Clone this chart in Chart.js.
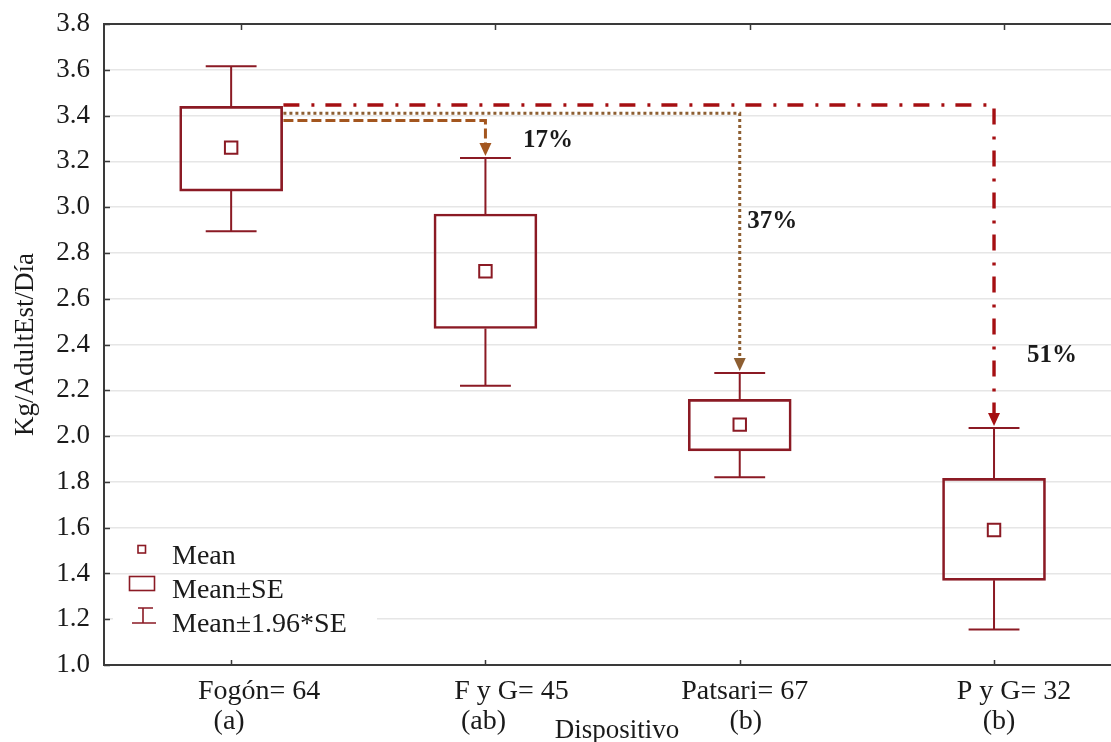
<!DOCTYPE html>
<html>
<head>
<meta charset="utf-8">
<script src="https://cdn.jsdelivr.net/npm/chart.js@4.4.1/dist/chart.umd.min.js"></script>
<style>
  html, body { margin: 0; padding: 0; background: #fff; overflow: hidden; }
  canvas { display: block; }
</style>
</head>
<body>
<canvas id="chart" width="1111" height="742"></canvas>
<script>
// Devices and sample sizes
const categories = ['Fogón= 64', 'F y G= 45', 'Patsari= 67', 'P y G= 32'];
const groups = ['(a)', '(ab)', '(b)', '(b)'];
// Daily consumption, kg per adult equivalent
const means = [3.26, 2.72, 2.05, 1.59];
const seLow = [3.07, 2.47, 1.935, 1.37];
const seHigh = [3.44, 2.97, 2.16, 1.815];
const ciLow = [2.895, 2.22, 1.82, 1.155];
const ciHigh = [3.615, 3.215, 2.275, 2.035];
const yTicks = [1.0, 1.2, 1.4, 1.6, 1.8, 2.0, 2.2, 2.4, 2.6, 2.8, 3.0, 3.2, 3.4, 3.6, 3.8];
const legendLabels = ['Mean', 'Mean±SE', 'Mean±1.96*SE'];

const SERIF = "'Liberation Serif', 'Times New Roman', serif";
const BOX = '#8b1a24';
const BOX_HALF = 0.2025;   // half box width, in category units
const CAP_HALF = 0.1;      // half whisker-cap width
const ARROW_H = 0.055;     // arrow head height, in value units

// Horizontal nudges (px) for the two lines of each category label
const labelNudge = [[28, -2], [26, -2], [5, 6], [20, 5]];

// Reduction arrows from the Fogón mean down to each improved device
const reductions = [
  { from: 0, to: 1, level: 3.378, color: '#a3561f', dash: [10, 4], width: 3, label: { x: 2.148, y: 3.289 } },
  { from: 0, to: 2, level: 3.41, color: '#8d5e31', dash: [3, 3], width: 3, label: { x: 3.03, y: 2.935 } },
  { from: 0, to: 3, level: 3.446, color: '#a50f12', dash: [16, 12, 3, 11], width: 3.4, label: { x: 4.13, y: 2.35 } }
];

const xPos = categories.map((_, i) => i + 1);

// Whiskers: one broken polyline (stems + caps), gaps between pieces
const whiskerPts = [];
xPos.forEach((x, i) => {
  whiskerPts.push({ x, y: ciHigh[i] }, { x, y: seHigh[i] }, { x, y: null });
  whiskerPts.push({ x, y: seLow[i] }, { x, y: ciLow[i] }, { x, y: null });
  whiskerPts.push({ x: x - CAP_HALF, y: ciHigh[i] }, { x: x + CAP_HALF, y: ciHigh[i] }, { x, y: null });
  whiskerPts.push({ x: x - CAP_HALF, y: ciLow[i] }, { x: x + CAP_HALF, y: ciLow[i] }, { x, y: null });
});

const reductionSets = reductions.map(r => ({
  type: 'line',
  data: [
    { x: xPos[r.from] + BOX_HALF + 0.003, y: r.level },
    { x: xPos[r.to], y: r.level },
    { x: xPos[r.to], y: ciHigh[r.to] + ARROW_H }
  ],
  borderColor: r.color,
  borderWidth: r.width,
  borderDash: r.dash,
  borderCapStyle: 'butt',
  pointRadius: 0,
  fill: false,
  tension: 0,
  order: 0
}));

const decorPlugin = {
  id: 'decor',
  beforeDatasetsDraw(chart) {
    const { ctx } = chart;
    // legend panel
    ctx.save();
    ctx.fillStyle = '#ffffff';
    ctx.fillRect(113, 600, 264, 55);
    ctx.strokeStyle = BOX;
    ctx.lineWidth = 1.6;
    // mean marker
    ctx.strokeRect(138, 545.5, 7.5, 7.5);
    // SE box
    ctx.strokeRect(129.5, 576.5, 25, 14);
    // whisker glyph
    ctx.beginPath();
    ctx.moveTo(138, 608); ctx.lineTo(153, 608);
    ctx.moveTo(143, 608); ctx.lineTo(143, 623);
    ctx.moveTo(132, 623); ctx.lineTo(156, 623);
    ctx.stroke();
    ctx.fillStyle = '#1a1a1a';
    ctx.font = '28px ' + SERIF;
    ctx.textAlign = 'left';
    ctx.textBaseline = 'alphabetic';
    ctx.fillText(legendLabels[0], 172, 564);
    ctx.fillText(legendLabels[1], 172, 598);
    ctx.fillText(legendLabels[2], 172, 632);
    ctx.restore();
  },
  afterDraw(chart) {
    const { ctx, chartArea, scales } = chart;
    const xs = scales.x, ys = scales.y;
    ctx.save();
    // top frame line
    ctx.strokeStyle = '#3a3a3a';
    ctx.lineWidth = 2;
    ctx.beginPath();
    ctx.moveTo(chartArea.left - 1, chartArea.top);
    ctx.lineTo(chartArea.right, chartArea.top);
    ctx.stroke();
    // inward tick marks
    ctx.lineWidth = 1.5;
    ctx.beginPath();
    yTicks.forEach(v => {
      const y = Math.round(ys.getPixelForValue(v)) + 0.5;
      ctx.moveTo(chartArea.left, y); ctx.lineTo(chartArea.left + 6, y);
    });
    xPos.forEach(x => {
      const px = Math.round(xs.getPixelForValue(x)) + 0.5;
      ctx.moveTo(px, chartArea.bottom); ctx.lineTo(px, chartArea.bottom - 5);
      ctx.moveTo(px + 10, chartArea.top); ctx.lineTo(px + 10, chartArea.top + 6);
    });
    ctx.stroke();

    // arrow heads and percentage labels
    reductions.forEach(r => {
      const px = xs.getPixelForValue(xPos[r.to]);
      const tip = ys.getPixelForValue(ciHigh[r.to]) - 2;
      ctx.fillStyle = r.color;
      ctx.beginPath();
      ctx.moveTo(px, tip);
      ctx.lineTo(px - 6, tip - 13);
      ctx.lineTo(px + 6, tip - 13);
      ctx.closePath();
      ctx.fill();
      const pct = Math.round((means[r.from] - means[r.to]) / means[r.from] * 100) + '%';
      ctx.fillStyle = '#1a1a1a';
      ctx.font = 'bold 25px ' + SERIF;
      ctx.textAlign = 'left';
      ctx.textBaseline = 'middle';
      ctx.fillText(pct, xs.getPixelForValue(r.label.x), ys.getPixelForValue(r.label.y));
    });

    // category labels
    ctx.fillStyle = '#1a1a1a';
    ctx.font = '28px ' + SERIF;
    ctx.textAlign = 'center';
    ctx.textBaseline = 'middle';
    xPos.forEach((x, i) => {
      const px = xs.getPixelForValue(x);
      ctx.fillText(categories[i], px + labelNudge[i][0], 692);
      ctx.fillText(groups[i], px + labelNudge[i][1], 722);
    });
    // x axis title
    ctx.font = '27px ' + SERIF;
    ctx.fillText('Dispositivo', 617, 731);
    ctx.restore();
  }
};

new Chart(document.getElementById('chart'), {
  data: {
    datasets: [
      {
        type: 'bar',
        data: xPos.map((x, i) => ({ x, y: [seLow[i], seHigh[i]] })),
        backgroundColor: 'rgba(0,0,0,0)',
        borderColor: BOX,
        borderWidth: 2,
        borderSkipped: false,
        barThickness: 103,
        grouped: false,
        order: 2
      },
      {
        type: 'line',
        data: whiskerPts,
        borderColor: BOX,
        borderWidth: 2,
        pointRadius: 0,
        spanGaps: false,
        fill: false,
        tension: 0,
        order: 2
      },
      {
        type: 'scatter',
        data: xPos.map((x, i) => ({ x, y: means[i] })),
        pointStyle: 'rect',
        pointRadius: 8.8,
        borderWidth: 2,
        borderColor: BOX,
        backgroundColor: '#ffffff',
        order: 1
      },
      ...reductionSets
    ]
  },
  options: {
    responsive: false,
    animation: false,
    devicePixelRatio: 1,
    layout: { autoPadding: false, padding: { top: 24, right: 0, bottom: 0, left: 0 } },
    plugins: { legend: { display: false }, tooltip: { enabled: false } },
    scales: {
      x: {
        type: 'linear',
        offset: false,
        min: 0.5,
        max: 4.46,
        ticks: { display: false },
        grid: { display: false, drawTicks: false, offset: false },
        border: { display: true, color: '#3a3a3a', width: 2 },
        afterFit(scale) { scale.height = 77; scale.paddingLeft = 0; scale.paddingRight = 0; }
      },
      y: {
        type: 'linear',
        min: 1.0,
        max: 3.8,
        afterBuildTicks(scale) { scale.ticks = yTicks.map(v => ({ value: v })); },
        ticks: {
          color: '#1a1a1a',
          padding: 14,
          font: { family: SERIF, size: 27 },
          callback: v => Number(v).toFixed(1)
        },
        grid: { color: '#e6e6e6', lineWidth: 1.5, drawTicks: false },
        border: { display: true, color: '#3a3a3a', width: 2 },
        title: {
          display: true,
          text: 'Kg/AdultEst/Día',
          color: '#1a1a1a',
          font: { family: SERIF, size: 27 },
          padding: { top: 10, bottom: 0 }
        },
        afterFit(scale) { scale.width = 104; scale.paddingTop = 0; scale.paddingBottom = 0; }
      }
    }
  },
  plugins: [decorPlugin]
});
</script>
</body>
</html>
